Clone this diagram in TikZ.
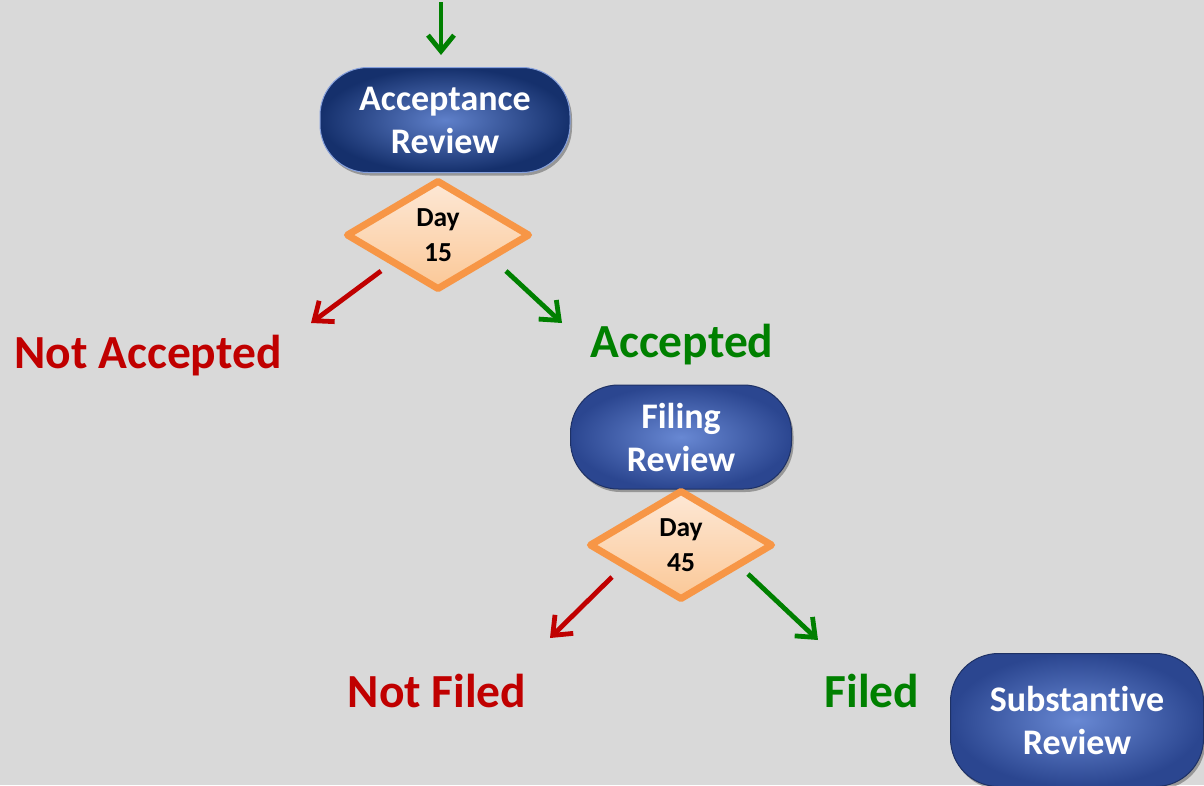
\documentclass[tikz,border=0pt]{standalone}
\usepackage{fontspec}
\setmainfont{Carlito}[Ligatures=NoCommon]
\usetikzlibrary{arrows.meta,shapes.geometric,shadows}

\definecolor{bgGray}{HTML}{D9D9D9}
\definecolor{navyOut}{HTML}{15306C}
\definecolor{navyIn}{HTML}{5F80CA}
\definecolor{blueOut}{HTML}{2B4690}
\definecolor{blueIn}{HTML}{6888D3}
\definecolor{dayOrange}{HTML}{F79646}
\definecolor{dayTop}{HTML}{FDE8D6}
\definecolor{dayBot}{HTML}{FBC897}
\definecolor{noRed}{HTML}{C00000}
\definecolor{okGreen}{HTML}{008000}

\tikzset{
  reviewbox/.style={rectangle, rounded corners=48pt, align=center, text=white,
    font=\fontsize{36}{43}\selectfont\bfseries, inner sep=0pt,
    inner color=blueIn, outer color=blueOut, draw=blueOut!70!black, line width=1pt,
    drop shadow={shadow xshift=2pt, shadow yshift=-3pt, opacity=0.3, fill=black}},
  daybox/.style={diamond, aspect=1.7, inner sep=0pt, align=center,
    minimum width=184pt, minimum height=110pt, line width=7pt, line join=round,
    draw=dayOrange, top color=dayTop, bottom color=dayBot,
    font=\fontsize{27.5}{35}\selectfont\bfseries},
  outcome/.style={font=\fontsize{47.5}{56}\selectfont\bfseries, inner sep=0pt},
  flow/.style={line width=4.8pt, -{Straight Barb[length=16pt,width=26pt]}},
}

\begin{document}
\begin{tikzpicture}[x=1pt, y=-1pt]

  %% ════ 背景 ════
  \fill[bgGray] (0,0) rectangle (1204,785);

  %% ════ 审查框 ════
  \node[reviewbox, inner color=navyIn, outer color=navyOut, draw=blueIn!80!white,
        minimum width=250pt, minimum height=105pt] (accrev) at (445,120) {Acceptance\\Review};
  \node[reviewbox, minimum width=221pt, minimum height=104pt] (filrev) at (681,437) {Filing\\Review};
  \node[reviewbox, minimum width=253pt, minimum height=133pt] (subrev) at (1077,720) {Substantive\\Review};

  %% ════ 期限菱形 ════
  \node[daybox] (day15) at (438,235) {Day\\15};
  \node[daybox] (day45) at (681,545) {Day\\45};

  %% ════ 结果文字 ════
  \node[outcome, text=noRed] (notacc) at (148,356) {Not Accepted};
  \node[outcome, text=okGreen] (acc) at (682,345) {Accepted};
  \node[outcome, text=noRed] (notfil) at (437,691) {Not Filed};
  \node[outcome, text=okGreen] (fil) at (872,691) {Filed};

  %% ════ 箭头端点 ════
  \coordinate (entry) at (441,2);
  \coordinate (d15l) at (381,271);
  \coordinate (d15r) at (506,271);
  \coordinate (d45l) at (612,577);
  \coordinate (d45r) at (748,574);
  \coordinate (notacctip) at (311,323);
  \coordinate (acctip) at (562,323);
  \coordinate (notfiltip) at (550,638);
  \coordinate (filtip) at (818,640);

  \draw[flow, okGreen, shorten >=12pt] (entry) -- (entry |- accrev.north);
  \draw[flow, noRed] (d15l) -- (notacctip);
  \draw[flow, okGreen] (d15r) -- (acctip);
  \draw[flow, noRed] (d45l) -- (notfiltip);
  \draw[flow, okGreen] (d45r) -- (filtip);

  % 钉死画布
  \pgfresetboundingbox
  \path[use as bounding box] (0,0) rectangle (1204,785);
\end{tikzpicture}
\end{document}
